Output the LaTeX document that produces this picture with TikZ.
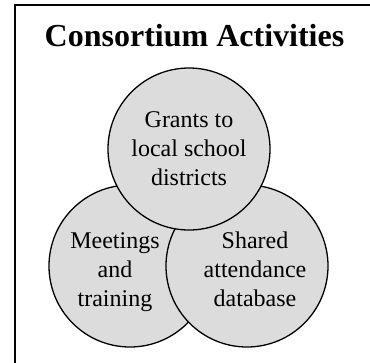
\documentclass[tikz,border=0pt]{standalone}
\usepackage{fontspec}
\setmainfont{Liberation Serif}
\definecolor{discfill}{HTML}{DCDCDC}
\begin{document}
\begin{tikzpicture}[x=1pt, y=-1pt,
  disc/.style={circle, draw=black, line width=1.3pt, fill=discfill,
    inner sep=0pt, minimum size=162pt},
  label/.style={align=center, anchor=base, inner sep=0pt,
    font=\fontsize{24}{29}\selectfont},
  heading/.style={anchor=base, inner sep=0pt,
    font=\fontsize{32}{38}\selectfont\bfseries}]
  \useasboundingbox (0,0) rectangle (370,362);
  \clip (0,0) rectangle (370,362);
  % frame, running past the right and bottom edges
  \draw[line width=2pt] (15,5) rectangle (420,420);
  \node[heading] (title) at (194.5,46) {Consortium Activities};
  % three overlapping discs, top one drawn last
  \node[disc] (meet) at (130,266) {};
  \node[disc] (shared) at (247,266) {};
  \node[disc] (grants) at (189,149) {};
  % the base anchor sits on the last line of each label
  \node[label] (grantsText) at (189,185) {Grants to\\local school\\districts};
  \node[label] (meetText) at (115,306) {Meetings\\and\\training};
  \node[label] (sharedText) at (255,306) {Shared\\attendance\\database};
\end{tikzpicture}
\end{document}
